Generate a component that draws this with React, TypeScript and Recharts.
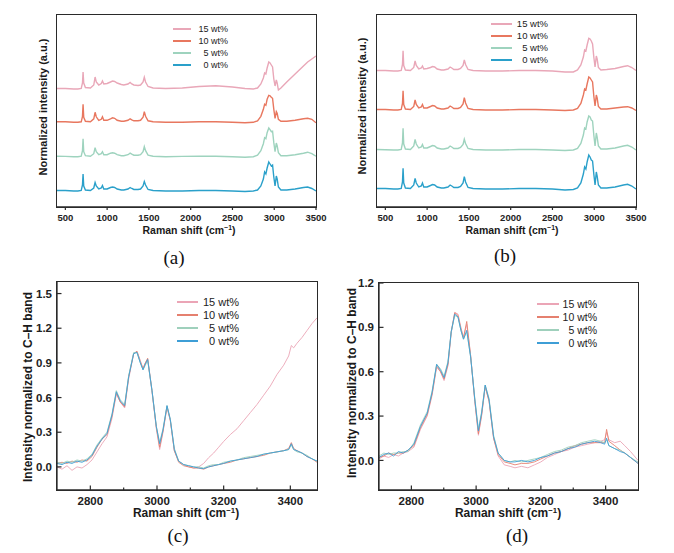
import React from 'react';
import { LineChart, Line, XAxis, YAxis, Legend } from 'recharts';

const SERIES_NAMES = ['15 wt%', '10 wt%', '5 wt%', '0 wt%'];
const COLORS_AB = ['#E9A7B8', '#E8775F', '#9ED3BE', '#2AA0CA'];
const COLORS_CD = ['#EBA5B6', '#E5806F', '#9FD0BC', '#3E9ED6'];

// ---- panels (a) and (b): full spectra, stacked ----
const X_AB = [400, 500, 600, 650, 690, 705, 712, 720, 740, 800, 840, 856, 870, 900, 930, 944, 960, 1000, 1040, 1065, 1090, 1120, 1170, 1200, 1250, 1275, 1295, 1320, 1370, 1400, 1430, 1445, 1460, 1490, 1550, 1700, 1900, 2100, 2300, 2500, 2650, 2750, 2800, 2840, 2870, 2885, 2900, 2915, 2935, 2950, 2965, 2980, 2995, 3010, 3025, 3035, 3050, 3080, 3150, 3250, 3350, 3400, 3450, 3500];
const TICKS_AB = [500, 1000, 1500, 2000, 2500, 3000, 3500];

const A_15 = [0.5, 0.5, 0, 0, 0.5, 6, 17, 6, 1.5, 1, 4, 12, 7, 4, 5.5, 8, 5, 5.5, 7, 8, 7.5, 6, 4.5, 4, 5, 6.5, 5, 4, 3.5, 4, 7, 11.7, 7, 2.5, 1, 0.5, 1, 2.5, 3.3, 2, 0.5, 0, 1, 5, 11, 16, 15, 21, 27, 26, 24, 22, 10, 3, 9, 6, -1, 1, 7, 15, 23, 27, 30, 33];
const A_10 = [0.5, 0.5, 0, 0, 0.5, 6, 18, 5, 1, 0.5, 3.5, 10, 5.5, 2, 3, 5.5, 2, 2, 3.5, 4.5, 4, 2, 1, 1, 2, 3.5, 2.5, 1.5, 1.5, 2, 5, 10.6, 6, 1.5, 0.5, 0, 0, 0.5, 0.5, 0, -0.5, 0, 1.5, 6, 13, 18, 17, 23, 27, 26.5, 25, 24, 13, 4, 10.7, 9, 3, 1, 1, 2, 3.5, 4, 3, -0.5];
const A_5 = [0.5, 0.3, 0, 0, 0.5, 6, 18, 5, 1, 0.5, 3, 9, 5, 2, 3, 5, 2, 2, 3.5, 4, 3.5, 2, 1, 1, 2, 3.5, 2.5, 1.5, 1.5, 2, 5, 10, 6, 1.5, 0.5, 0, 0.3, 0.5, 0.5, 0, -0.5, 0, 1.5, 6, 13, 19, 18, 24, 28.7, 27, 25, 25.5, 14, 5, 13.7, 11, 4, 1, 1, 2, 3.5, 4.5, 3, 0.5];
const A_0 = [0.5, 0.5, 0, 0, 0.5, 6, 17, 5, 1, 0.5, 3, 8.5, 5, 2, 3, 5.5, 2, 2, 3.5, 4, 3.5, 2, 1, 1, 2, 3.5, 2.5, 1.5, 1.5, 2, 5, 9.5, 6, 1.5, 0.5, 0, 0, 0.5, 0.5, 0, -0.5, 0, 1, 5, 12, 19, 17, 23, 29, 27, 25, 26, 14, 5, 15, 12, 4, 1, 1, 2, 3.5, 4, 2.5, 0];
const A_OFFSETS = [118, 84.7, 50.3, 16];

const B_15 = [0.5, 0.5, 0, 0, 0.5, 6.5, 20.3, 5.5, 1, 0.5, 3.5, 10, 5.5, 2, 3, 5, 2, 2.5, 3.5, 4.5, 4, 2, 1, 1, 2, 4, 3, 1.5, 1.5, 2.5, 5.5, 11, 6.5, 1.5, 0.5, 0, 0, 0.5, 0.5, 0, -1, -1, 1, 6, 14, 21, 20, 26, 32.7, 32, 30, 27, 14, 4, 15, 12, 3.5, 1, 1.5, 2.5, 4.5, 5.3, 3.5, 0.5];
const B_10 = [0.5, 0.5, 0, 0, 0.5, 6.5, 19.3, 5.5, 1, 0.5, 3.5, 10, 5.5, 2, 3, 5.5, 2, 2, 3.5, 4.5, 4, 2, 1, 1, 2, 4, 3, 1.5, 1.5, 2.5, 6, 12.3, 7, 1.5, 0.5, 0, 0, 0.5, 0.5, 0, -0.5, 0, 1.5, 6.5, 15, 21, 20, 26, 33, 32, 30, 28, 14, 4, 15, 12, 3.5, 1, 1, 2, 3, 3.3, 2, -0.5];
const B_5 = [0.5, 0.3, 0, 0, 0.5, 7, 21.7, 6, 1, 0.5, 4, 10.7, 6, 2, 3, 5.5, 2, 2, 3.5, 4.5, 4, 2, 1, 1, 2, 4, 3, 1.5, 1.5, 2.5, 5.5, 10.7, 6.5, 1.5, 0.5, 0, 0, 0.5, 0.5, 0, -0.5, 0, 1.5, 6.5, 15, 22, 21, 28, 34, 33, 30, 29, 15, 4, 17, 13, 4, 1, 1, 2, 4, 4.7, 3, 0];
const B_0 = [0.5, 0.5, 0, 0, 0.5, 7, 20.7, 6, 1, 0.5, 4, 10.7, 6, 2, 3, 6, 2, 2, 3.5, 4.5, 4, 2, 1, 1, 2, 4, 3, 1.5, 1.5, 2.5, 6, 12.3, 7, 1.5, 0.5, 0, 0, 0.5, 0.5, 0, -1, -0.5, 1, 6, 15, 22, 20, 27, 34, 32, 29, 28, 15, 4, 17, 13, 4, 1, 1, 2, 4, 4.7, 3, 0];
const B_OFFSETS = [136, 97, 57, 18];

// ---- panel (c) ----
const X_C = [2700, 2715, 2730, 2745, 2760, 2775, 2790, 2805, 2820, 2835, 2850, 2865, 2878, 2890, 2903, 2915, 2930, 2940, 2950, 2958, 2965, 2972, 2985, 2998, 3008, 3018, 3030, 3040, 3052, 3065, 3080, 3095, 3110, 3125, 3140, 3155, 3170, 3185, 3200, 3220, 3240, 3260, 3280, 3300, 3320, 3340, 3360, 3380, 3395, 3403, 3410, 3420, 3435, 3450, 3465, 3480];
const C_15 = [0.00, -0.02, 0.01, -0.03, 0.00, -0.01, 0.02, 0.06, 0.13, 0.20, 0.26, 0.42, 0.63, 0.56, 0.51, 0.76, 0.98, 1.00, 0.92, 0.85, 0.90, 0.93, 0.65, 0.33, 0.15, 0.30, 0.52, 0.40, 0.14, 0.05, 0.02, 0.00, -0.01, 0.00, 0.03, 0.08, 0.12, 0.17, 0.22, 0.28, 0.33, 0.40, 0.47, 0.54, 0.62, 0.70, 0.80, 0.88, 0.96, 1.05, 1.03, 1.07, 1.12, 1.18, 1.24, 1.29];
const C_10 = [0.03, 0.04, 0.03, 0.05, 0.04, 0.06, 0.05, 0.09, 0.17, 0.24, 0.28, 0.44, 0.64, 0.56, 0.52, 0.78, 0.98, 1.00, 0.91, 0.85, 0.90, 0.94, 0.66, 0.34, 0.17, 0.31, 0.52, 0.40, 0.14, 0.04, 0.01, 0.00, -0.01, -0.01, -0.02, 0.00, 0.01, 0.02, 0.03, 0.04, 0.06, 0.07, 0.08, 0.09, 0.10, 0.12, 0.13, 0.14, 0.16, 0.21, 0.16, 0.14, 0.12, 0.09, 0.07, 0.04];
const C_5 = [0.04, 0.03, 0.05, 0.04, 0.06, 0.05, 0.07, 0.11, 0.19, 0.25, 0.30, 0.46, 0.66, 0.58, 0.54, 0.79, 0.99, 0.99, 0.90, 0.84, 0.88, 0.92, 0.66, 0.35, 0.21, 0.33, 0.53, 0.41, 0.16, 0.05, 0.02, 0.01, 0.00, 0.00, -0.01, 0.01, 0.02, 0.02, 0.04, 0.05, 0.06, 0.08, 0.09, 0.10, 0.11, 0.12, 0.13, 0.14, 0.15, 0.19, 0.15, 0.13, 0.12, 0.10, 0.07, 0.05];
const C_0 = [0.03, 0.02, 0.04, 0.03, 0.05, 0.04, 0.06, 0.10, 0.18, 0.24, 0.29, 0.45, 0.65, 0.57, 0.53, 0.78, 0.98, 0.99, 0.90, 0.84, 0.89, 0.93, 0.66, 0.35, 0.20, 0.32, 0.53, 0.41, 0.15, 0.05, 0.02, 0.01, 0.00, -0.01, -0.015, 0.00, 0.01, 0.02, 0.03, 0.05, 0.06, 0.07, 0.08, 0.09, 0.11, 0.12, 0.13, 0.14, 0.15, 0.20, 0.15, 0.14, 0.12, 0.09, 0.07, 0.05];
const TICKS_C_X = [2800, 2900, 3000, 3100, 3200, 3300, 3400];
const LABELED_CD_X = [2800, 3000, 3200, 3400];
const TICKS_C_Y = [0, 0.3, 0.6, 0.9, 1.2, 1.5];

// ---- panel (d) ----
const X_D = [2700, 2715, 2730, 2745, 2760, 2775, 2790, 2808, 2828, 2849, 2864, 2878, 2890, 2901, 2913, 2923, 2934, 2944, 2953, 2961, 2971, 2983, 2996, 3007, 3017, 3028, 3040, 3054, 3068, 3087, 3105, 3120, 3140, 3160, 3180, 3200, 3220, 3242, 3263, 3284, 3305, 3325, 3345, 3366, 3385, 3397, 3403, 3410, 3428, 3445, 3459, 3477, 3500];
const D_15 = [0.01, 0.03, 0.02, 0.04, 0.03, 0.05, 0.06, 0.09, 0.21, 0.30, 0.44, 0.63, 0.60, 0.54, 0.64, 0.86, 1.00, 0.99, 0.90, 0.83, 0.92, 0.71, 0.40, 0.17, 0.30, 0.50, 0.40, 0.15, 0.03, -0.03, -0.04, -0.05, -0.04, -0.05, -0.03, -0.01, 0.02, 0.04, 0.06, 0.07, 0.09, 0.10, 0.11, 0.12, 0.13, 0.14, 0.19, 0.14, 0.12, 0.13, 0.10, 0.06, 0.00];
const D_10 = [0.02, 0.03, 0.05, 0.04, 0.05, 0.05, 0.07, 0.10, 0.22, 0.31, 0.45, 0.64, 0.60, 0.55, 0.65, 0.87, 1.00, 0.98, 0.89, 0.83, 0.94, 0.71, 0.40, 0.18, 0.31, 0.50, 0.40, 0.15, 0.04, -0.01, -0.02, -0.03, -0.02, -0.02, -0.01, 0.01, 0.03, 0.05, 0.06, 0.08, 0.10, 0.11, 0.12, 0.12, 0.12, 0.12, 0.21, 0.13, 0.10, 0.07, 0.05, 0.02, -0.02];
const D_5 = [0.03, 0.05, 0.04, 0.05, 0.05, 0.06, 0.06, 0.12, 0.24, 0.33, 0.47, 0.65, 0.62, 0.57, 0.67, 0.87, 0.98, 0.97, 0.88, 0.82, 0.87, 0.70, 0.42, 0.21, 0.33, 0.51, 0.42, 0.17, 0.05, 0.00, -0.01, 0.00, -0.01, 0.00, 0.01, 0.02, 0.04, 0.06, 0.07, 0.09, 0.10, 0.12, 0.13, 0.14, 0.13, 0.12, 0.14, 0.10, 0.08, 0.07, 0.05, 0.02, -0.01];
const D_0 = [0.02, 0.04, 0.05, 0.03, 0.06, 0.05, 0.07, 0.11, 0.23, 0.32, 0.46, 0.65, 0.61, 0.56, 0.66, 0.87, 0.99, 0.97, 0.88, 0.82, 0.88, 0.70, 0.41, 0.20, 0.32, 0.51, 0.41, 0.16, 0.05, 0.00, -0.01, -0.01, 0.00, -0.01, 0.00, 0.02, 0.03, 0.05, 0.06, 0.08, 0.09, 0.11, 0.12, 0.13, 0.12, 0.11, 0.15, 0.10, 0.08, 0.06, 0.05, 0.02, -0.02];
const TICKS_D_X = [2800, 2900, 3000, 3100, 3200, 3300, 3400];
const TICKS_D_Y = [0, 0.3, 0.6, 0.9, 1.2];

const NO_OFFSETS = [0, 0, 0, 0];

function buildRows(xs: number[], series: number[][], offsets: number[]) {
  return xs.map((x, i) => {
    const row: Record<string, number> = { x };
    series.forEach((s, k) => {
      row['s' + k] = s[i] + offsets[k];
    });
    return row;
  });
}

const SANS = '"Liberation Sans", Arial, Helvetica, sans-serif';
const SERIF = '"Liberation Serif", "Times New Roman", serif';
const AXIS_COLOR = '#2a2a2a';
const FRAME_W = 1.3;

type LegendCfg = { left: number; top: number; width: number; rowH: number; lineW: number; fontSize: number };

const makeLegend = (cfg: LegendCfg, colors: string[]) => () => (
  <div style={{ width: cfg.width, fontFamily: SANS, fontSize: cfg.fontSize, color: '#222' }}>
    {SERIES_NAMES.map((name, i) => (
      <div key={name} style={{ display: 'flex', alignItems: 'center', height: cfg.rowH }}>
        <div style={{ width: cfg.lineW, height: 1.6, background: colors[i] }} />
        <div style={{ flex: 1, textAlign: 'right', lineHeight: cfg.rowH + 'px', whiteSpace: 'nowrap' }}>{name}</div>
      </div>
    ))}
  </div>
);

const makeXTick = (gap: number, fontSize: number, labeled: number[]) => (props: any) => {
  const { x, y, payload } = props;
  const v = payload.value;
  const major = labeled.includes(v);
  const axisY = y - gap;
  return (
    <g>
      <line x1={x} x2={x} y1={axisY} y2={axisY - (major ? 4.5 : 2.5)} stroke={AXIS_COLOR} strokeWidth={1.2} />
      {major && (
        <text x={x} y={y} dy="0.71em" textAnchor="middle" fontSize={fontSize} fontWeight={700} fontFamily={SANS} fill="#222">
          {v}
        </text>
      )}
    </g>
  );
};

const makeYTick = (gap: number, fontSize: number) => (props: any) => {
  const { x, y, payload } = props;
  const axisX = x + gap;
  return (
    <g>
      <line x1={axisX} x2={axisX + 4.5} y1={y} y2={y} stroke={AXIS_COLOR} strokeWidth={1.2} />
      <text x={x} y={y} dy="0.355em" textAnchor="end" fontSize={fontSize} fontWeight={700} fontFamily={SANS} fill="#222">
        {Number(payload.value).toFixed(1)}
      </text>
    </g>
  );
};

type PanelProps = {
  left: number;
  top: number;
  width: number;
  height: number;
  rows: Record<string, number>[];
  colors: string[];
  margin: { top: number; right: number; bottom: number; left: number };
  xDomain: [number, number];
  xTicks: number[];
  yDomain: [number, number];
  yTicks?: number[];
  yWidth: number;
  xHeight: number;
  inward: boolean;
  tickFont: number;
  lineWidth: number;
  legend: LegendCfg;
};

function Panel(p: PanelProps) {
  const axisLine = { stroke: AXIS_COLOR, strokeWidth: FRAME_W };
  const plotLeft = p.margin.left + p.yWidth;
  const plotTop = p.margin.top;
  const plotW = p.width - plotLeft - p.margin.right;
  const plotH = p.height - plotTop - p.margin.bottom - p.xHeight;
  return (
    <div style={{ position: 'absolute', left: p.left, top: p.top, width: p.width, height: p.height }}>
      <LineChart width={p.width} height={p.height} data={p.rows} margin={p.margin}>
        {p.inward ? (
          <XAxis
            type="number"
            dataKey="x"
            domain={p.xDomain}
            ticks={p.xTicks}
            interval={0}
            allowDataOverflow
            height={p.xHeight}
            axisLine={axisLine}
            tickLine={false}
            tickSize={0}
            tickMargin={7}
            tick={makeXTick(7, p.tickFont, LABELED_CD_X)}
          />
        ) : (
          <XAxis
            type="number"
            dataKey="x"
            domain={p.xDomain}
            ticks={p.xTicks}
            interval={0}
            allowDataOverflow
            height={p.xHeight}
            axisLine={axisLine}
            tickLine={{ stroke: AXIS_COLOR, strokeWidth: 1.2 }}
            tickSize={3}
            tickMargin={4}
            tick={{ fontSize: p.tickFont, fontWeight: 700, fill: '#222', fontFamily: SANS }}
          />
        )}
        {p.yTicks ? (
          <YAxis
            type="number"
            domain={p.yDomain}
            ticks={p.yTicks}
            interval={0}
            allowDataOverflow
            width={p.yWidth}
            axisLine={axisLine}
            tickLine={false}
            tickSize={0}
            tickMargin={5}
            tick={makeYTick(5, p.tickFont)}
          />
        ) : (
          <YAxis type="number" domain={p.yDomain} allowDataOverflow width={p.yWidth} axisLine={axisLine} tick={false} tickLine={false} />
        )}
        {SERIES_NAMES.map((name, k) => (
          <Line
            key={name}
            type="linear"
            dataKey={'s' + k}
            name={name}
            stroke={p.colors[k]}
            strokeWidth={p.lineWidth}
            dot={false}
            activeDot={false}
            isAnimationActive={false}
          />
        ))}
        <Legend
          layout="vertical"
          align="center"
          verticalAlign="middle"
          wrapperStyle={{ left: p.legend.left, top: p.legend.top, width: p.legend.width }}
          content={makeLegend(p.legend, p.colors)}
        />
      </LineChart>
      <div
        style={{
          position: 'absolute',
          left: plotLeft - FRAME_W / 2,
          top: plotTop - FRAME_W / 2,
          width: plotW + FRAME_W,
          height: plotH + FRAME_W,
          boxSizing: 'border-box',
          border: `${FRAME_W}px solid ${AXIS_COLOR}`,
          pointerEvents: 'none',
        }}
      />
    </div>
  );
}

function Title(props: { x: number; y: number; size: number; rotate?: boolean; children: React.ReactNode }) {
  return (
    <div
      style={{
        position: 'absolute',
        left: props.x,
        top: props.y,
        transform: props.rotate ? 'translate(-50%,-50%) rotate(-90deg)' : 'translate(-50%,-50%)',
        fontFamily: SANS,
        fontWeight: 700,
        fontSize: props.size,
        color: '#1a1a1a',
        whiteSpace: 'nowrap',
        lineHeight: 1,
      }}
    >
      {props.children}
    </div>
  );
}

function PanelLabel(props: { x: number; y: number; text: string }) {
  return (
    <div
      style={{
        position: 'absolute',
        left: props.x,
        top: props.y,
        transform: 'translate(-50%,-50%)',
        fontFamily: SERIF,
        fontSize: 19,
        color: '#111',
        lineHeight: 1,
        whiteSpace: 'nowrap',
      }}
    >
      {props.text}
    </div>
  );
}

const Raman = () => (
  <span>
    Raman shift (cm<sup style={{ fontSize: '0.65em', verticalAlign: '0.55em', lineHeight: 0 }}>−1</sup>)
  </span>
);

export default function App() {
  const rowsA = buildRows(X_AB, [A_15, A_10, A_5, A_0], A_OFFSETS);
  const rowsB = buildRows(X_AB, [B_15, B_10, B_5, B_0], B_OFFSETS);
  const rowsC = buildRows(X_C, [C_15, C_10, C_5, C_0], NO_OFFSETS);
  const rowsD = buildRows(X_D, [D_15, D_10, D_5, D_0], NO_OFFSETS);

  return (
    <div style={{ position: 'absolute', left: 0, top: 0, width: 674, height: 553, background: '#fff', overflow: 'hidden' }}>
      <Panel
        left={0}
        top={0}
        width={337}
        height={270}
        rows={rowsA}
        colors={COLORS_AB}
        margin={{ top: 15, right: 21, bottom: 38, left: 57 }}
        xDomain={[400, 3500]}
        xTicks={TICKS_AB}
        yDomain={[0, 192]}
        yWidth={0}
        xHeight={25}
        inward={false}
        tickFont={9.5}
        lineWidth={1.4}
        legend={{ left: 173, top: 23, width: 55, rowH: 12, lineW: 18, fontSize: 9 }}
      />
      <Panel
        left={337}
        top={0}
        width={337}
        height={270}
        rows={rowsB}
        colors={COLORS_AB}
        margin={{ top: 15, right: 38, bottom: 38, left: 40 }}
        xDomain={[400, 3500]}
        xTicks={TICKS_AB}
        yDomain={[0, 192]}
        yWidth={0}
        xHeight={25}
        inward={false}
        tickFont={9.5}
        lineWidth={1.4}
        legend={{ left: 154, top: 18, width: 57, rowH: 12, lineW: 21, fontSize: 9.5 }}
      />
      <Panel
        left={0}
        top={270}
        width={337}
        height={283}
        rows={rowsC}
        colors={COLORS_CD}
        margin={{ top: 12, right: 20, bottom: 33, left: 17 }}
        xDomain={[2700, 3480]}
        xTicks={TICKS_C_X}
        yDomain={[-0.2, 1.6]}
        yTicks={TICKS_C_Y}
        yWidth={40}
        xHeight={30}
        inward={true}
        tickFont={11.5}
        lineWidth={0.9}
        legend={{ left: 177, top: 25.5, width: 62, rowH: 13, lineW: 21, fontSize: 11 }}
      />
      <Panel
        left={337}
        top={270}
        width={337}
        height={283}
        rows={rowsD}
        colors={COLORS_CD}
        margin={{ top: 13, right: 36, bottom: 33, left: 7 }}
        xDomain={[2700, 3500]}
        xTicks={TICKS_D_X}
        yDomain={[-0.2, 1.2]}
        yTicks={TICKS_D_Y}
        yWidth={35}
        xHeight={30}
        inward={true}
        tickFont={11.5}
        lineWidth={0.9}
        legend={{ left: 200, top: 27.5, width: 60, rowH: 13, lineW: 22, fontSize: 10.5 }}
      />

      <Title x={43} y={107} size={11} rotate>Normalized intensity (a.u.)</Title>
      <Title x={189} y={230} size={10.5}><Raman /></Title>
      <PanelLabel x={174} y={257} text="(a)" />

      <Title x={362} y={106} size={11} rotate>Normalized intensity (a.u.)</Title>
      <Title x={512} y={230} size={10.5}><Raman /></Title>
      <PanelLabel x={505} y={255} text="(b)" />

      <Title x={28} y={387} size={12} rotate>Intensity normalized to C–H band</Title>
      <Title x={186} y={513} size={12}><Raman /></Title>
      <PanelLabel x={178} y={535} text="(c)" />

      <Title x={352} y={383} size={12} rotate>Intensity normalized to C–H band</Title>
      <Title x={508} y={513} size={12}><Raman /></Title>
      <PanelLabel x={517} y={535} text="(d)" />
    </div>
  );
}
